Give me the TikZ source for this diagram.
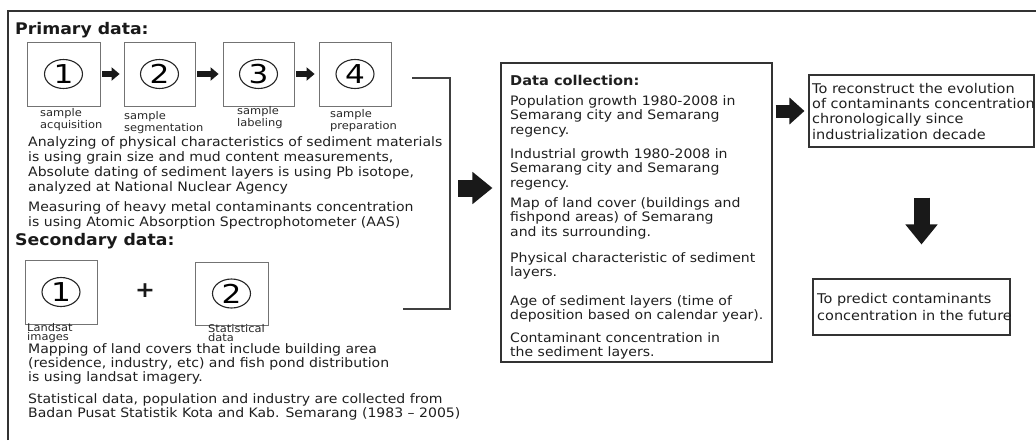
\documentclass[tikz,border=0pt]{standalone}
\usepackage{fontspec}
\setmainfont{DejaVu Sans}[FakeStretch=1.08]
\newfontfamily\numfont{DejaVu Sans}[FakeStretch=1.2]
\usetikzlibrary{arrows.meta,shapes.geometric}
\tikzset{
  stepbox/.style={draw=black!55, line width=0.8pt, inner sep=0pt},
  infobox/.style={draw=black!80, line width=1.1pt, inner sep=0pt},
  numring/.style={ellipse, draw=black!85, line width=1.1pt, minimum width=38pt,
    minimum height=29pt, inner sep=0pt, font=\numfont\fontsize{26}{26}\selectfont},
  % multi-line nodes are placed at the baseline of their last line
  capnote/.style={anchor=base west, align=left, inner sep=0pt, text=black!85,
    font=\fontsize{10.6}{9.3}\selectfont},
  body/.style={anchor=base west, align=left, inner sep=0pt, text=black!88,
    font=\fontsize{13}{14.5}\selectfont},
  heading/.style={anchor=base west, inner sep=0pt, text=black!90,
    font=\bfseries\fontsize{16}{16}\selectfont},
  thinarrow/.style={draw=black!90, line width=6pt, -{Triangle[length=8pt,width=13pt]}},
  midarrow/.style={draw=black!90, line width=13pt, -{Triangle[length=15pt,width=26pt]}},
  fatarrow/.style={draw=black!90, line width=17pt, -{Triangle[length=20pt,width=31pt]}},
  bracket/.style={draw=black!75, line width=1.1pt},
}
\begin{document}
\begin{tikzpicture}[x=1pt,y=-1pt]
  \useasboundingbox (0,0) rectangle (1036,440);
  \draw[draw=black!80, line width=1.2pt] (8,440) -- (8,11) -- (1036,11);

  % primary data
  \node[heading] (prim) at (15,34) {Primary data:};
  \node[stepbox, minimum width=73pt, minimum height=64pt] (p1) at (63.5,74) {};
  \node[stepbox, minimum width=71pt, minimum height=64pt] (p2) at (159.5,74) {};
  \node[stepbox, minimum width=71pt, minimum height=64pt] (p3) at (258.5,74) {};
  \node[stepbox, minimum width=72pt, minimum height=64pt] (p4) at (355,74) {};
  \foreach \i in {1,...,4}
    \node[numring] (n\i) at (p\i) {\i};
  \draw[thinarrow, shorten <=2pt, shorten >=4pt] (p1) -- (p2);
  \draw[thinarrow, shorten <=2pt, shorten >=4pt] (p2) -- (p3);
  \draw[thinarrow, shorten <=2pt, shorten >=4pt] (p3) -- (p4);
  \node[capnote] (c1) at (40,128) {sample\\acquisition};
  \node[capnote] (c2) at (124,131) {sample\\segmentation};
  \node[capnote] (c3) at (237,126) {sample\\labeling};
  \node[capnote] (c4) at (330,129) {sample\\preparation};

  \node[body] (t1) at (28,161) {Analyzing of physical characteristics of sediment materials\\
    is using grain size and mud content measurements,};
  \node[body] (t2) at (28,191) {Absolute dating of sediment layers is using Pb isotope,\\
    analyzed at National Nuclear Agency};
  \node[body] (t3) at (28,226) {Measuring of heavy metal contaminants concentration\\
    is using Atomic Absorption Spectrophotometer (AAS)};

  % secondary data
  \node[heading] (sec) at (15,245) {Secondary data:};
  \node[stepbox, minimum width=72pt, minimum height=64pt] (s1) at (61,292) {};
  \node[stepbox, minimum width=73pt, minimum height=63pt] (s2) at (231.5,293.5) {};
  \node[numring] (m1) at (s1) {1};
  \node[numring] (m2) at (s2) {2};
  \node[inner sep=0pt, text=black!90, font=\bfseries\fontsize{22}{22}\selectfont] (plus) at (145,291) {+};
  \node[capnote] (c5) at (27,340.5) {Landsat\\images};
  \node[capnote] (c6) at (208,341.5) {Statistical\\data};
  \node[body, font=\fontsize{13}{13.8}\selectfont] (t4) at (28,381) {Mapping of land covers that include building area\\
    (residence, industry, etc) and fish pond distribution\\
    is using landsat imagery.};
  \node[body] (t5) at (28,417.5) {Statistical data, population and industry are collected from\\
    Badan Pusat Statistik Kota and Kab. Semarang (1983 -- 2005)};

  % bracket and link to data collection
  \coordinate (b1) at (412,78);
  \coordinate (b2) at (450,78);
  \coordinate (b3) at (450,309);
  \coordinate (b4) at (403,309);
  \coordinate (bmid) at (450,188);
  \draw[bracket] (b1) -- (b2) -- (b3) -- (b4);

  % data collection
  \node[infobox, minimum width=271pt, minimum height=299pt] (dc) at (636.5,212.5) {};
  \draw[fatarrow, shorten <=8pt, shorten >=8pt] (bmid) -- (bmid -| dc.west);
  \node[body, font=\bfseries\fontsize{13.5}{14.5}\selectfont] (dct) at (510,85) {Data collection:};
  \node[body] (d1) at (510,134) {Population growth 1980-2008 in\\Semarang city and Semarang\\regency.};
  \node[body] (d2) at (510,187) {Industrial growth 1980-2008 in\\Semarang city and Semarang\\regency.};
  \node[body] (d3) at (510,236) {Map of land cover (buildings and\\fishpond areas) of Semarang\\and its surrounding.};
  \node[body] (d4) at (510,276.5) {Physical characteristic of sediment\\layers.};
  \node[body] (d5) at (510,319.5) {Age of sediment layers (time of\\deposition based on calendar year).};
  \node[body] (d6) at (510,356.5) {Contaminant concentration in\\the sediment layers.};

  % results
  \node[infobox, minimum width=225pt, minimum height=72pt] (r1) at (921.5,111) {};
  \node[body, font=\fontsize{13.4}{15.3}\selectfont] (rt1) at (812,139) {To reconstruct the evolution\\
    of contaminants concentration\\chronologically since\\industrialization decade};
  \node[infobox, minimum width=197pt, minimum height=56pt] (r2) at (911.5,307) {};
  \node[body, font=\fontsize{13.4}{17}\selectfont] (rt2) at (817,320) {To predict contaminants\\
    concentration in the future};
  \draw[midarrow, shorten <=3pt, shorten >=4pt] (r1.west -| dc.east) -- (r1.west);
  \draw[fatarrow, line width=16pt, shorten <=50pt, shorten >=34pt] (r1.south) -- (r1.south |- r2.north);
\end{tikzpicture}
\end{document}
